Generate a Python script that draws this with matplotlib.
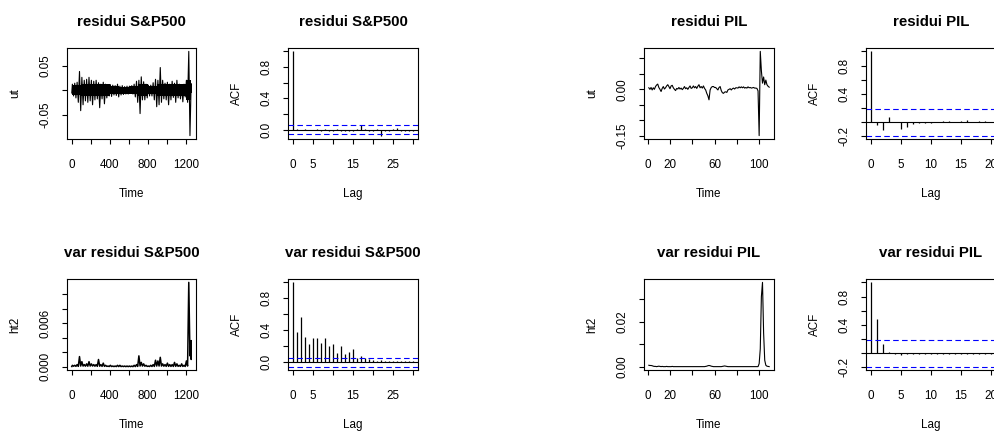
import numpy as np
import matplotlib.pyplot as plt

plt.rcParams['font.family'] = ['Liberation Sans', 'DejaVu Sans']
plt.rcParams['lines.scale_dashes'] = False

# ---- dati ----
n_sp = 1258          # osservazioni S&P500
n_pil = 109          # osservazioni PIL
bin_sp = 25          # ampiezza dei blocchi per l'inviluppo S&P500
bin_core = 100       # ampiezza dei blocchi per la fascia centrale

# residui S&P500: massimo e minimo per blocco di 25 osservazioni
sp_ut_hi = [0.012, 0.014, 0.016, 0.038, 0.026, 0.020, 0.022, 0.026, 0.020, 0.018,
            0.020, 0.015, 0.012, 0.016, 0.012, 0.010, 0.011, 0.010, 0.009, 0.012,
            0.008, 0.009, 0.007, 0.008, 0.008, 0.009, 0.012, 0.018, 0.020, 0.027,
            0.017, 0.012, 0.010, 0.010, 0.015, 0.022, 0.020, 0.046, 0.020, 0.014,
            0.016, 0.012, 0.018, 0.014, 0.020, 0.012, 0.010, 0.012, 0.020, 0.079, 0.013]
sp_ut_lo = [-0.012, -0.016, -0.025, -0.042, -0.030, -0.022, -0.025, -0.022, -0.030, -0.020,
            -0.018, -0.036, -0.018, -0.028, -0.016, -0.012, -0.013, -0.010, -0.011, -0.014,
            -0.010, -0.009, -0.008, -0.008, -0.006, -0.008, -0.014, -0.025, -0.048, -0.020,
            -0.020, -0.016, -0.012, -0.012, -0.020, -0.034, -0.030, -0.025, -0.018, -0.020,
            -0.030, -0.020, -0.015, -0.025, -0.016, -0.018, -0.024, -0.014, -0.025, -0.093, -0.005]
# semi-ampiezza della fascia densa dei residui, per blocchi di 100 osservazioni
sp_ut_core = [0.010, 0.013, 0.013, 0.012, 0.008, 0.007, 0.008, 0.012, 0.008, 0.013,
              0.012, 0.012, 0.020]

# varianza condizionale S&P500 (ht2): massimo e minimo per blocco
sp_var_hi = [0.0002, 0.0002, 0.0003, 0.0014, 0.0007, 0.0003, 0.0004, 0.0007, 0.0004, 0.0003,
             0.0003, 0.0010, 0.0003, 0.0005, 0.0002, 0.0001, 0.0002, 0.0001, 0.0001, 0.0002,
             0.0002, 0.0001, 0.0001, 0.0001, 0.0001, 0.0001, 0.0002, 0.0003, 0.0015, 0.0006,
             0.0004, 0.0002, 0.0001, 0.0002, 0.0003, 0.0009, 0.0008, 0.0013, 0.0004, 0.0003,
             0.0005, 0.0003, 0.0003, 0.0006, 0.0004, 0.0002, 0.0004, 0.0002, 0.0008, 0.0116, 0.0036]
sp_var_lo = [0.00008, 0.00006, 0.00006, 0.0001, 0.0001, 0.00008, 0.00008, 0.0001, 0.0001, 0.00008,
             0.00006, 0.00008, 0.00006, 0.00006, 0.00005, 0.00004, 0.00004, 0.00003, 0.00003, 0.00003,
             0.00003, 0.00003, 0.00002, 0.00002, 0.00002, 0.00002, 0.00003, 0.00005, 0.0001, 0.0001,
             0.00008, 0.00005, 0.00004, 0.00004, 0.00005, 0.0001, 0.0001, 0.0001, 0.00008, 0.00006,
             0.00006, 0.00005, 0.00005, 0.00006, 0.00006, 0.00005, 0.00005, 0.00004, 0.0001, 0.0015, 0.0010]

# residui PIL
pil_ut = [0.005, 0.000, 0.006, -0.002, 0.005, 0.000, 0.009, 0.014, 0.017, 0.006,
          0.000, -0.007, 0.003, 0.009, 0.001, 0.005, 0.011, 0.015, 0.009, 0.002,
          0.011, 0.013, 0.005, 0.000, -0.004, 0.003, 0.001, 0.006, 0.001, 0.004,
          -0.001, 0.003, 0.009, 0.002, 0.005, 0.000, 0.006, 0.011, 0.003, 0.005,
          0.011, 0.005, 0.009, 0.003, 0.010, 0.015, 0.005, 0.009, 0.004, 0.011,
          0.003, -0.002, -0.013, -0.021, -0.034, -0.002, 0.006, 0.009, 0.009, 0.006,
          0.006, 0.002, -0.002, 0.006, 0.009, -0.004, -0.011, -0.013, -0.009, -0.008,
          -0.010, -0.002, 0.000, 0.002, -0.002, 0.002, 0.004, 0.001, 0.005, 0.005,
          0.004, 0.008, 0.005, 0.008, 0.005, 0.008, 0.004, 0.006, 0.004, 0.008,
          0.005, 0.006, 0.004, 0.005, 0.006, 0.004, 0.004, 0.003, -0.005, -0.150,
          0.123, 0.060, 0.020, 0.040, 0.015, 0.030, 0.015, 0.010, 0.007]

# varianza condizionale PIL
pil_var = [0.0008, 0.0007, 0.0007, 0.0006, 0.0004, 0.0003, 0.0003, 0.0002, 0.0003, 0.0004,
           0.0003, 0.0002, 0.0003, 0.0002, 0.0002, 0.0002, 0.0003, 0.0002, 0.0002, 0.0002,
           0.0002, 0.0003, 0.0002, 0.0002, 0.0002, 0.0002, 0.0002, 0.0002, 0.0002, 0.0002,
           0.0002, 0.0002, 0.0002, 0.0002, 0.0002, 0.0002, 0.0002, 0.0002, 0.0002, 0.0002,
           0.0002, 0.0002, 0.0002, 0.0002, 0.0002, 0.0002, 0.0002, 0.0002, 0.0002, 0.0002,
           0.0002, 0.0003, 0.0004, 0.0006, 0.0007, 0.0006, 0.0004, 0.0003, 0.0002, 0.0002,
           0.0002, 0.0002, 0.0002, 0.0002, 0.0002, 0.0002, 0.0003, 0.0004, 0.0005, 0.0004,
           0.0003, 0.0002, 0.0002, 0.0002, 0.0002, 0.0002, 0.0002, 0.0002, 0.0002, 0.0002,
           0.0002, 0.0002, 0.0002, 0.0002, 0.0002, 0.0002, 0.0002, 0.0002, 0.0002, 0.0002,
           0.0002, 0.0002, 0.0002, 0.0002, 0.0002, 0.0002, 0.0002, 0.0002, 0.0002, 0.0015,
           0.0080, 0.0310, 0.0373, 0.0150, 0.0030, 0.0008, 0.0004, 0.0003, 0.0002]

# funzioni di autocorrelazione
sp_ut_acf = [1.0, 0.004, -0.006, 0.008, -0.005, 0.003, 0.012, -0.010, 0.010, -0.013,
             -0.012, 0.004, -0.020, -0.020, -0.015, -0.020, 0.012, 0.064, 0.005, -0.020,
             -0.022, 0.006, -0.075, -0.015, -0.010, 0.006, 0.018, -0.015, -0.012, -0.020, -0.022]
sp_var_acf = [1.0, 0.384, 0.561, 0.321, 0.224, 0.300, 0.300, 0.236, 0.300, 0.203,
              0.224, 0.118, 0.203, 0.097, 0.131, 0.169, 0.055, 0.076, 0.055, 0.046,
              0.034, 0.021, 0.030, 0.020, 0.020, 0.018, 0.015, 0.012, 0.015, 0.010, 0.012]
pil_ut_acf = [1.0, -0.033, -0.108, 0.080, 0.005, -0.094, -0.070, -0.028, -0.014, -0.010,
              -0.006, 0.010, 0.014, 0.020, 0.010, 0.014, 0.038, 0.010, 0.014, 0.018, 0.010]
pil_var_acf = [1.0, 0.485, 0.132, 0.014, -0.014, -0.024, -0.010, -0.012, -0.012, -0.010,
               -0.010, -0.008, -0.008, -0.008, -0.006, -0.006, -0.006, -0.005, -0.005, -0.004, -0.004]

# ---- figura ----
W, H = 995, 432
fig = plt.figure(figsize=(W / 100, H / 100), dpi=100)


def add_box(x0, y0, x1, y1):
    # coordinate in pixel (origine in alto a sinistra)
    return fig.add_axes([x0 / W, 1 - y1 / H, (x1 - x0) / W, (y1 - y0) / H])


def r_lim(lo, hi):
    d = 0.04 * (hi - lo)
    return lo - d, hi + d


def r_style(ax, xticks, xlabels, yticks, ylabels, title, xlabel, ylabel):
    for s in ax.spines.values():
        s.set_linewidth(0.8)
    ax.set_xticks(xticks, xlabels)
    ax.set_yticks(yticks, ylabels)
    ax.tick_params(direction='out', length=3.6, width=0.8, labelsize=8.4)
    ax.tick_params(axis='x', pad=10.5)
    ax.tick_params(axis='y', pad=7.4, labelrotation=90)
    for lab in ax.get_yticklabels():
        lab.set_va('center')
    ax.set_title(title, fontsize=10.8, fontweight='bold', pad=15.5)
    ax.set_xlabel(xlabel, fontsize=8.4, labelpad=12.2)
    ax.set_ylabel(ylabel, fontsize=8.4, labelpad=13.0)


def envelope(hi, lo, n, step):
    # linea a zig-zag tra massimo e minimo di ogni blocco
    start = np.arange(len(hi)) * step + 1
    x = np.empty(2 * len(hi))
    y = np.empty(2 * len(hi))
    x[0::2] = np.minimum(start + step * 0.25, n)
    x[1::2] = np.minimum(start + step * 0.75, n)
    y[0::2] = hi
    y[1::2] = lo
    return np.concatenate([[1], x, [n]]), np.concatenate([[lo[0] * 0.5], y, [hi[-1] * 0.5]])


def ts_panel(ax, x, y, n, lw=0.8):
    ax.plot(x, y, color='black', lw=lw)
    ax.set_xlim(r_lim(1, n))
    ax.set_ylim(r_lim(np.min(y), np.max(y)))


def acf_panel(ax, acf, n):
    acf = np.asarray(acf)
    lags = np.arange(len(acf))
    clim = 1.96 / np.sqrt(n)
    ax.vlines(lags, 0, acf, color='black', lw=0.9)
    ax.axhline(0, color='black', lw=0.8)
    for c in (clim, -clim):
        ax.axhline(c, color='#0000ff', lw=0.8, linestyle=(0, (4.0, 2.4)))
    ax.set_xlim(r_lim(0, lags[-1]))
    ax.set_ylim(r_lim(min(acf.min(), -clim), max(acf.max(), clim)))


top, bot = (48, 139), (279, 370)
cols = [(67, 196), (288, 418), (644, 774), (866, 996)]

sp_ticks = [0, 200, 400, 600, 800, 1000, 1200]
sp_tlabs = ['0', '', '400', '', '800', '', '1200']
pil_ticks = [0, 20, 40, 60, 80, 100]
pil_tlabs = ['0', '20', '', '60', '', '100']
lag_sp = [0, 5, 10, 15, 20, 25, 30]
lag_sp_labs = ['0', '5', '', '15', '', '25', '']
lag_pil = [0, 5, 10, 15, 20]
lag_pil_labs = ['0', '5', '10', '15', '20']
acf_sp_y = [0, 0.2, 0.4, 0.6, 0.8, 1.0]
acf_sp_ylabs = ['0.0', '', '0.4', '', '0.8', '']
acf_pil_y = [-0.2, 0, 0.2, 0.4, 0.6, 0.8, 1.0]
acf_pil_ylabs = ['-0.2', '', '', '0.4', '', '0.8', '']

# residui S&P500
ax = add_box(cols[0][0], top[0], cols[0][1], top[1])
x, y = envelope(sp_ut_hi, sp_ut_lo, n_sp, bin_sp)
ts_panel(ax, x, y, n_sp)
core = np.asarray(sp_ut_core)
core_x = np.append(np.arange(len(core)) * bin_core + 1, n_sp)
core_y = np.append(core, core[-1])
ax.fill_between(core_x, -core_y, core_y, step='post', color='black', lw=0)
r_style(ax, sp_ticks, sp_tlabs, [-0.05, 0, 0.05], ['-0.05', '', '0.05'],
        'residui S&P500', 'Time', 'ut')

ax = add_box(cols[1][0], top[0], cols[1][1], top[1])
acf_panel(ax, sp_ut_acf, n_sp)
r_style(ax, lag_sp, lag_sp_labs, acf_sp_y, acf_sp_ylabs, 'residui S&P500', 'Lag', 'ACF')

# varianza S&P500
ax = add_box(cols[0][0], bot[0], cols[0][1], bot[1])
x, y = envelope(sp_var_hi, sp_var_lo, n_sp, bin_sp)
ts_panel(ax, x, y, n_sp, lw=1.1)
r_style(ax, sp_ticks, sp_tlabs, [0, 0.002, 0.004, 0.006, 0.008, 0.010],
        ['0.000', '', '', '0.006', '', ''], 'var residui S&P500', 'Time', 'ht2')

ax = add_box(cols[1][0], bot[0], cols[1][1], bot[1])
acf_panel(ax, sp_var_acf, n_sp)
r_style(ax, lag_sp, lag_sp_labs, acf_sp_y, acf_sp_ylabs, 'var residui S&P500', 'Lag', 'ACF')

# residui PIL
t_pil = np.arange(1, n_pil + 1)
ax = add_box(cols[2][0], top[0], cols[2][1], top[1])
ts_panel(ax, t_pil, pil_ut, n_pil)
r_style(ax, pil_ticks, pil_tlabs, [-0.15, -0.10, -0.05, 0, 0.05, 0.10],
        ['-0.15', '', '', '0.00', '', ''], 'residui PIL', 'Time', 'ut')

ax = add_box(cols[3][0], top[0], cols[3][1], top[1])
acf_panel(ax, pil_ut_acf, n_pil)
r_style(ax, lag_pil, lag_pil_labs, acf_pil_y, acf_pil_ylabs, 'residui PIL', 'Lag', 'ACF')

# varianza PIL
ax = add_box(cols[2][0], bot[0], cols[2][1], bot[1])
ts_panel(ax, t_pil, pil_var, n_pil)
r_style(ax, pil_ticks, pil_tlabs, [0, 0.01, 0.02, 0.03], ['0.00', '', '0.02', ''],
        'var residui PIL', 'Time', 'ht2')

ax = add_box(cols[3][0], bot[0], cols[3][1], bot[1])
acf_panel(ax, pil_var_acf, n_pil)
r_style(ax, lag_pil, lag_pil_labs, acf_pil_y, acf_pil_ylabs, 'var residui PIL', 'Lag', 'ACF')

fig.savefig('out.png', dpi=100)
